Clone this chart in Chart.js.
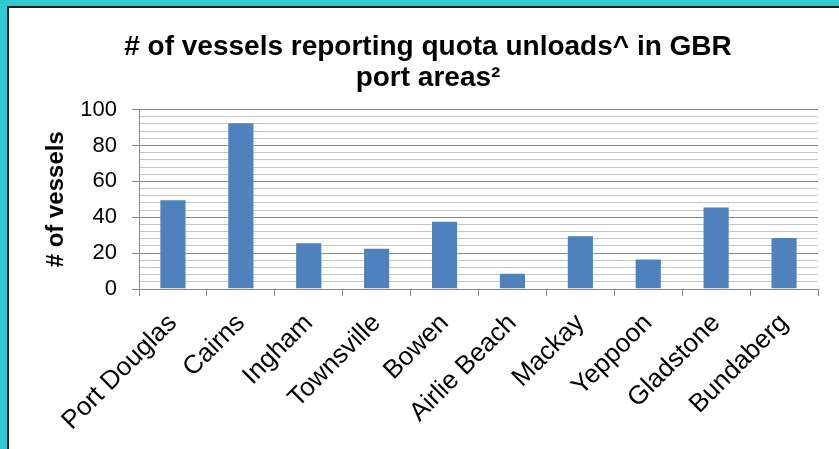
<!DOCTYPE html>
<html>
<head>
<meta charset="utf-8">
<script src="https://cdn.jsdelivr.net/npm/chart.js@4.4.0/dist/chart.umd.min.js"></script>
<style>
  html, body { margin: 0; padding: 0; background: #fff; }
</style>
</head>
<body>
<canvas id="myChart" width="839" height="449"></canvas>
<script>
// port areas and number of vessels reporting quota unloads
var ports = ['Port Douglas', 'Cairns', 'Ingham', 'Townsville', 'Bowen',
  'Airlie Beach', 'Mackay', 'Yeppoon', 'Gladstone', 'Bundaberg']
var vesselCounts = [50, 93, 26, 23, 38, 9, 30, 17, 46, 29]

// y axis: labelled every 20, light gridlines every 4
var yMax = 100
var majorStep = 20
var minorStep = 4

var titleLines = ['# of vessels reporting quota unloads^ in GBR', 'port areas\u00b2']
var yTitle = '# of vessels'

Chart.defaults.font.family = "'Liberation Sans', Arial, sans-serif"
Chart.defaults.color = '#000'

// white page with the teal edge on top and left
const framePlugin = {
  id: 'frame',
  beforeDraw(chart) {
    const c = chart.ctx
    c.save()
    c.fillStyle = '#fff'
    c.fillRect(0, 0, chart.width, chart.height)
    c.fillStyle = '#30cbd2'
    c.fillRect(0, 0, chart.width, 6)
    c.fillRect(0, 0, 7, chart.height)
    c.fillStyle = '#1e1e1e'
    c.fillRect(7, 6, chart.width - 7, 2)
    c.fillRect(7, 6, 2, chart.height - 6)
    c.restore()
  },
}

const isMajor = (v) => v % majorStep === 0

let ctx = document.getElementById('myChart').getContext('2d')
let myChart = new Chart(ctx, {
  type: 'bar',
  data: {
    labels: ports,
    datasets: [
      {
        label: yTitle,
        data: vesselCounts,
        backgroundColor: '#4f81bd',
        borderColor: 'rgba(255, 255, 255, 0.35)',
        borderWidth: 1,
        barPercentage: 0.4,
        categoryPercentage: 1,
      },
    ],
  },
  options: {
    responsive: false,
    animation: false,
    layout: {
      padding: { left: 38, top: 8, right: 21, bottom: 0 },
    },
    plugins: {
      legend: { display: false },
      tooltip: { enabled: false },
      title: {
        display: true,
        text: titleLines,
        color: '#000',
        font: { size: 28, weight: 'bold', lineHeight: 1.1 },
        padding: { top: 24, bottom: 16 },
      },
    },
    scales: {
      x: {
        border: { color: '#868686' },
        grid: { drawOnChartArea: false, tickLength: 7, color: '#868686' },
        ticks: {
          autoSkip: false,
          maxRotation: 45,
          minRotation: 45,
          padding: 12,
          color: '#000',
          font: { size: 26 },
        },
        afterFit(scale) {
          scale.height = 160
        },
      },
      y: {
        min: 0,
        max: yMax,
        border: { color: '#868686' },
        grid: {
          color: (c) => (c.tick && isMajor(c.tick.value) ? '#868686' : '#c4c4c4'),
          tickColor: (c) => (c.tick && isMajor(c.tick.value) ? '#868686' : 'rgba(0,0,0,0)'),
          tickLength: 7,
        },
        ticks: {
          stepSize: minorStep,
          autoSkip: false,
          padding: 15,
          color: '#000',
          font: { size: 22 },
          callback: (v) => (isMajor(v) ? v : ''),
        },
        title: {
          display: true,
          text: yTitle,
          color: '#000',
          font: { size: 24, weight: 'bold' },
          padding: { top: 4, bottom: 0 },
        },
        afterFit(scale) {
          scale.width = 101
        },
      },
    },
  },
  plugins: [framePlugin],
})
</script>
</body>
</html>
